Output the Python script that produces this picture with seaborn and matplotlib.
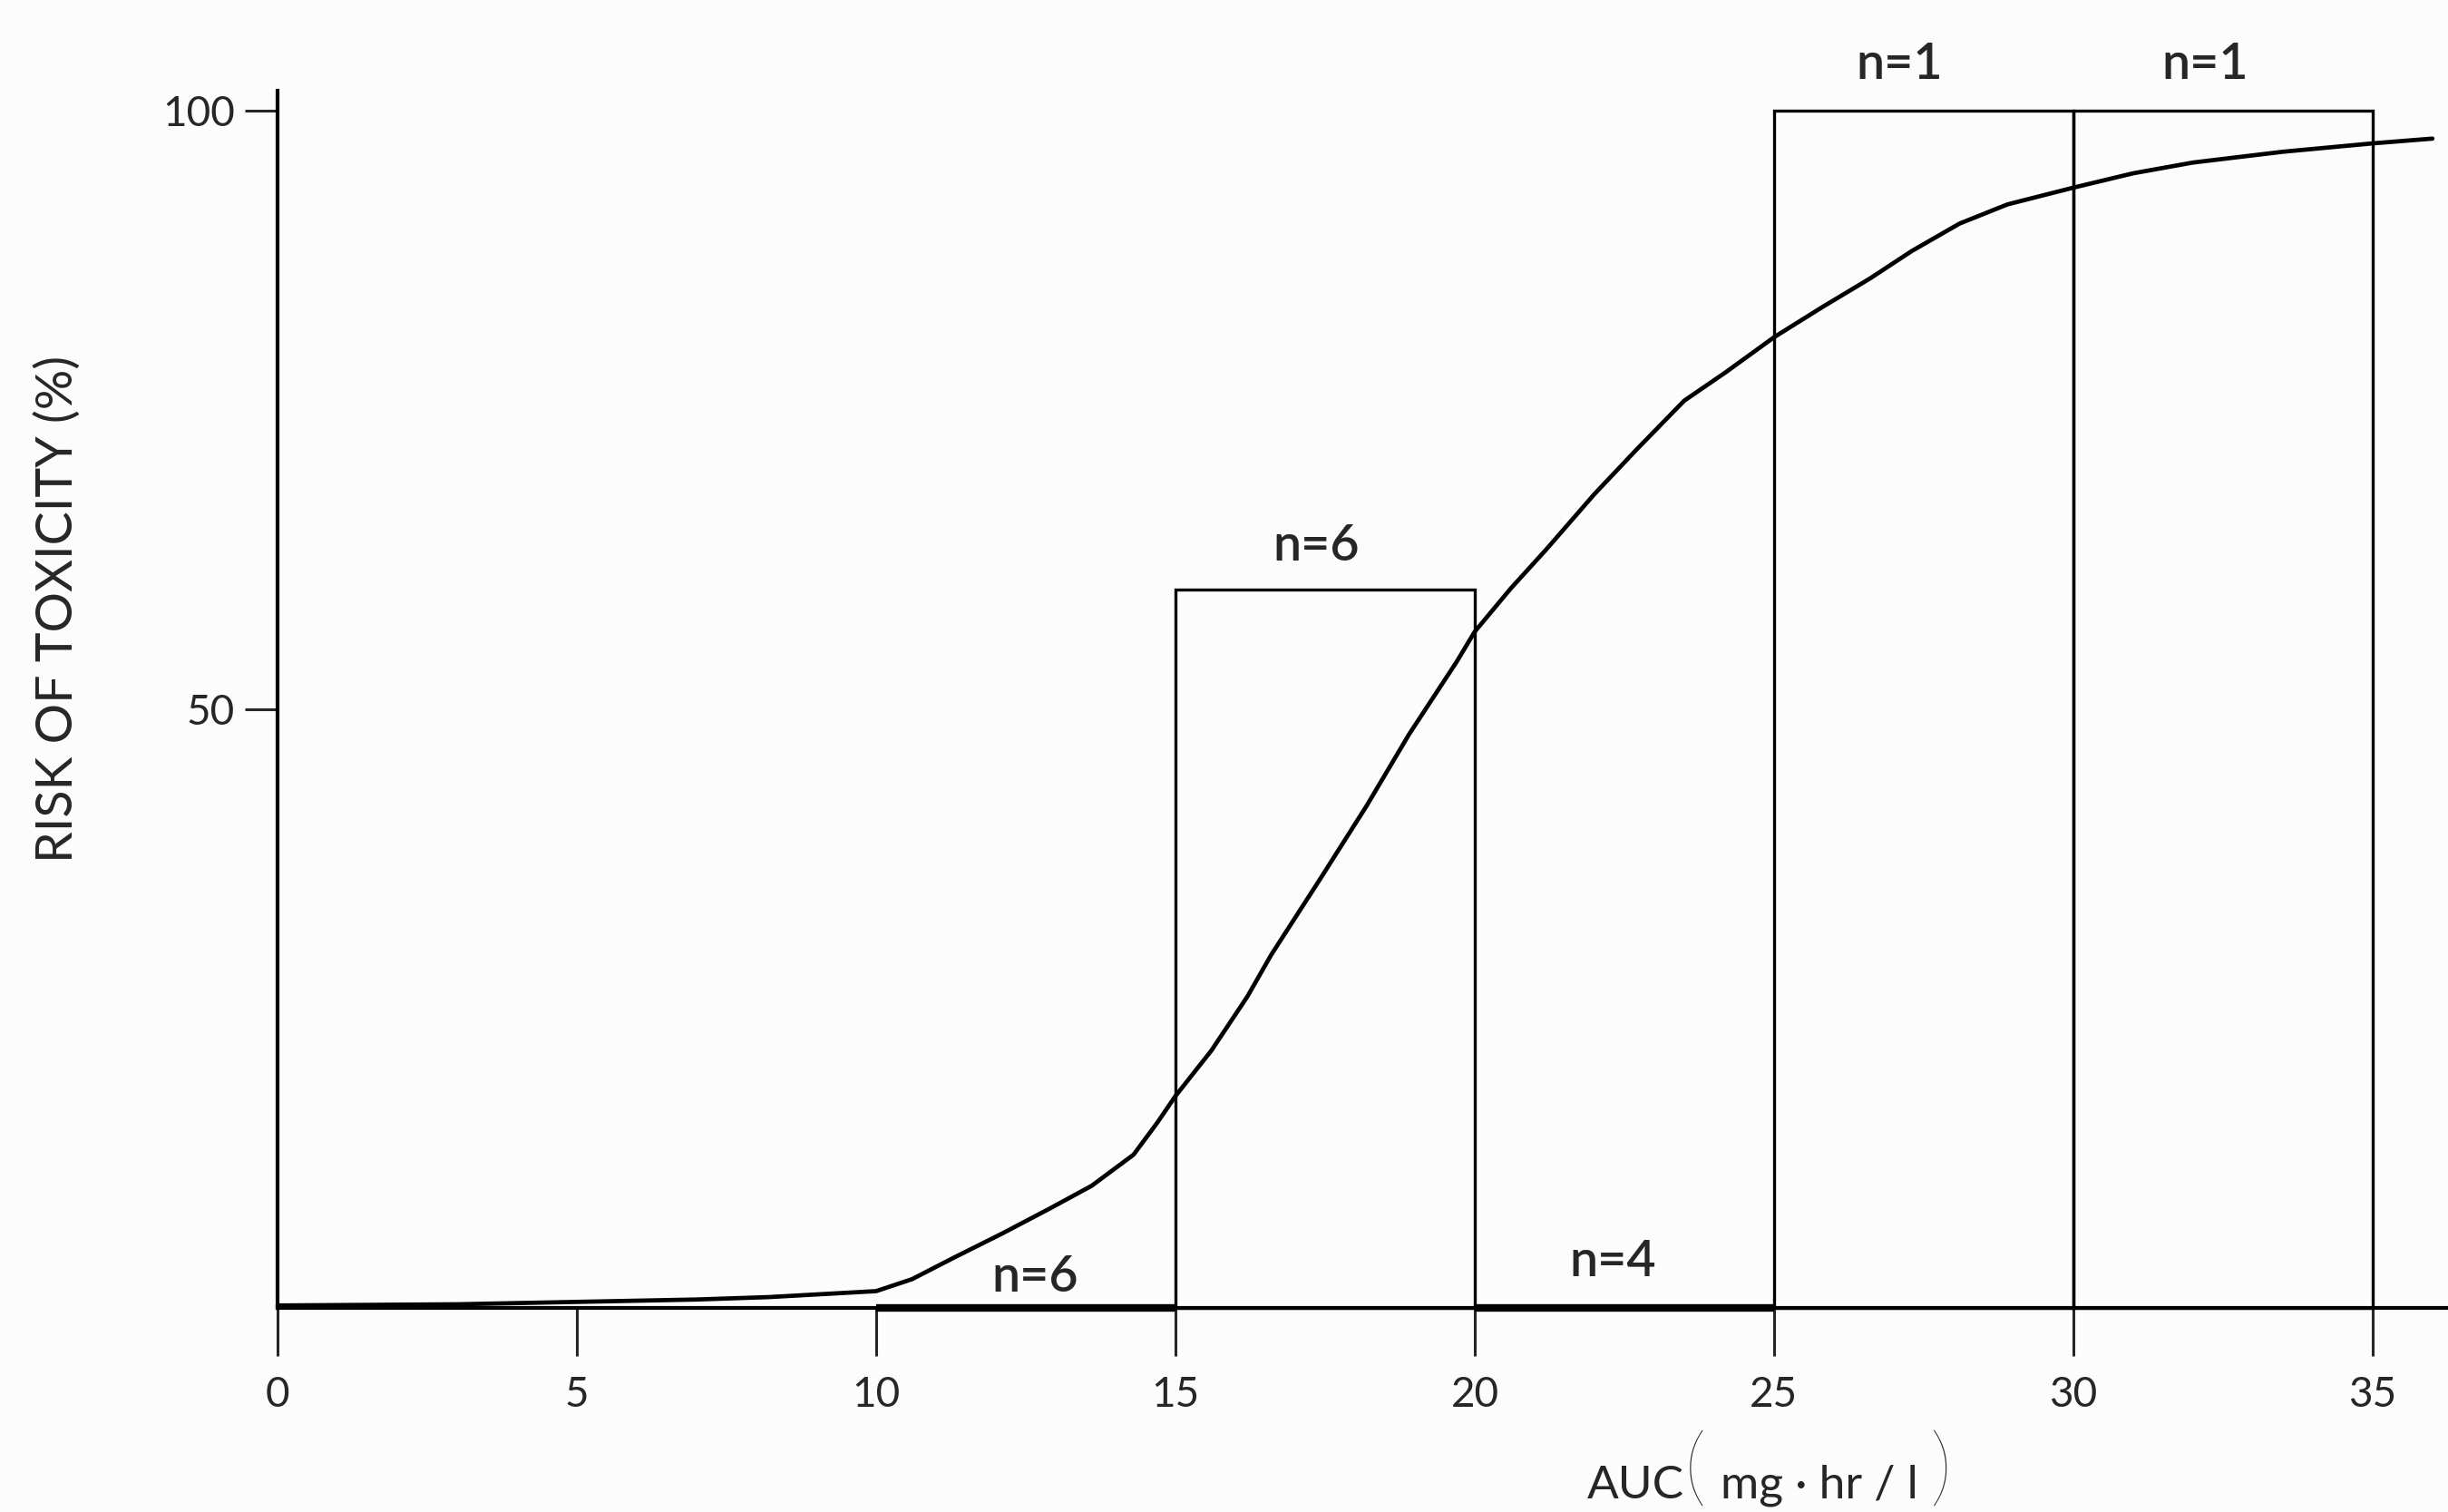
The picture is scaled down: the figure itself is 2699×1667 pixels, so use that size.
import pandas as pd
import seaborn as sns
import matplotlib.pyplot as plt

# fitted risk curve
auc_pts = [0, 3, 5, 7, 8.2, 10, 10.6, 11.3, 12.1, 12.9, 13.6, 14.3, 14.7, 15,
           15.6, 16.2, 16.6, 17.4, 18.2, 18.9, 19.7, 20, 20.6, 21.2, 22.0,
           22.7, 23.5, 24.2, 25, 25.8, 26.6, 27.3, 28.1, 28.9, 30, 31, 32,
           33.5, 35, 36]
risk_pts = [0.2, 0.3, 0.5, 0.7, 0.9, 1.4, 2.4, 4.2, 6.2, 8.3, 10.2, 12.8,
            15.5, 17.7, 21.5, 26, 29.5, 35.7, 42, 47.9, 54, 56.5, 60.1, 63.4,
            68, 71.7, 75.8, 78.2, 81.1, 83.6, 86, 88.3, 90.6, 92.2, 93.6,
            94.8, 95.7, 96.6, 97.3, 97.7]

# observed toxicity per AUC bin
bin_left = [10, 15, 20, 25, 30]
bin_risk = [0, 60, 0, 100, 100]
bin_n = ["n=6", "n=6", "n=4", "n=1", "n=1"]
label_x = [12.65, 17.35, 22.3, 27.1, 32.2]
label_y = [0.7, 61.8, 2.0, 102.0, 102.0]

x_ticks = [0, 5, 10, 15, 20, 25, 30, 35]
y_ticks = [50, 100]

sns.set_theme(style="white")
plt.rcParams["font.family"] = ["Lato", "DejaVu Sans"]

curve = pd.DataFrame({"auc": auc_pts, "risk": risk_pts})

fig = plt.figure(figsize=(26.99, 16.67), dpi=100)
fig.patch.set_facecolor("#fcfcfc")
ax = fig.add_axes([0.1134, 0.135, 1 - 0.1134, 0.805])
ax.set_facecolor("#fcfcfc")

# empty bins drawn as heavy lines on the baseline
edge_w = [6.0 if r == 0 else 2.4 for r in bin_risk]
ax.bar(bin_left, bin_risk, width=5, align="edge", facecolor="none",
       edgecolor="black", linewidth=edge_w, zorder=2, clip_on=False)
sns.lineplot(data=curve, x="auc", y="risk", ax=ax, color="black",
             linewidth=3.4, zorder=3, clip_on=False)

for x, y, t in zip(label_x, label_y, bin_n):
    ax.text(x, y, t, ha="center", va="bottom", fontsize=40,
            fontweight="semibold", clip_on=False)

ax.set_xlim(0, 36.26)
ax.set_ylim(0, 101.7)
ax.set_xticks(x_ticks)
ax.set_yticks(y_ticks)
ax.tick_params(axis="x", direction="out", length=38, width=2.2, pad=16,
               labelsize=33, bottom=True)
ax.tick_params(axis="y", direction="out", length=26, width=2.2, pad=8,
               labelsize=33, left=True)
for s in ["top", "right"]:
    ax.spines[s].set_visible(False)
for s in ["left", "bottom"]:
    ax.spines[s].set_linewidth(3.0)
    ax.spines[s].set_color("black")

ax.set_xlabel("")
ax.set_ylabel("RISK OF TOXICITY (%)", fontsize=40)
ax.yaxis.set_label_coords(-0.0906, 0.574)

# x axis label with tall brackets
fig.text(0.6485, 0.009, "AUC", fontsize=37, ha="left", va="baseline")
fig.text(0.6925, 0.052, "(", fontsize=70, ha="center", va="top",
         fontweight="light")
fig.text(0.703, 0.009, "mg · hr / l", fontsize=37, ha="left", va="baseline")
fig.text(0.793, 0.052, ")", fontsize=70, ha="center", va="top",
         fontweight="light")

fig.savefig("out.png", dpi=100, facecolor=fig.get_facecolor())
